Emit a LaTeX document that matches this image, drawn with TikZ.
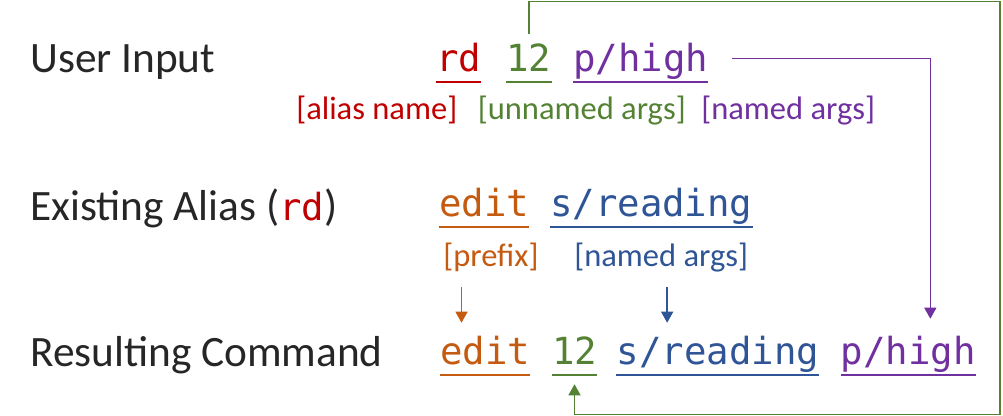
\documentclass[tikz,border=0pt]{standalone}
\usepackage{fontspec}
\setmainfont{Carlito}
\newfontfamily\codefont{DejaVu Sans Mono}
\usetikzlibrary{positioning,arrows.meta}
\definecolor{aliasred}{HTML}{C00000}
\definecolor{argsgreen}{HTML}{548235}
\definecolor{namedpurple}{HTML}{7030A0}
\definecolor{prefixorange}{HTML}{C55A11}
\definecolor{namedblue}{HTML}{2F5597}
\colorlet{titlegray}{black!85}
\newcommand\codesize{\codefont\fontsize{28}{30}\selectfont}

\tikzset{
  rowtitle/.style={font=\fontsize{32.5}{36}\selectfont, text=titlegray, anchor=base west, inner sep=0pt},
  tag/.style={font=\fontsize{24.4}{28}\selectfont, text=#1, anchor=base west, inner sep=0pt},
  word/.style={font=\codesize, text=#1, anchor=base west, inner sep=0pt, text height=28pt, text depth=7.5pt,
    append after command={(\tikzlastnode.south west) edge[draw=#1, line width=1.5pt] (\tikzlastnode.south east)}},
  flow/.style={draw=#1, line width=1pt, -{Triangle[width=9pt,length=8.25pt]}},
}

\begin{document}
\begin{tikzpicture}[x=0.75pt, y=-0.75pt, node distance=16pt]
\useasboundingbox (0,0) rectangle (1003,416);

% row titles
\node[rowtitle] (tinput) at (30,73) {User Input};
\node[rowtitle] (talias) at (30,221) {Existing Alias ({\codesize\color{aliasred}rd})};
\node[rowtitle] (tresult) at (30,367) {Resulting Command};

% user input
\node[word=aliasred] (inrd) at (436,72) {rd};
\node[word=argsgreen, right=18.5pt of inrd] (in12) {12};
\node[word=namedpurple, right=of in12] (inhigh) {p/high};
\node[tag=aliasred] (laliasname) at (296,120) {[alias name]};
\node[tag=argsgreen, right=15pt of laliasname] (lunnamed) {[unnamed args]};
\node[tag=namedpurple, right=11.25pt of lunnamed] (lnamedin) {[named args]};

% existing alias
\node[word=prefixorange] (aledit) at (439,217) {edit};
\node[word=namedblue, right=15.3pt of aledit] (alread) {s/reading};
\node[tag=prefixorange] (lprefix) at (443,267) {[prefix]};
\node[tag=namedblue] (lnamedal) at (574,267) {[named args]};

% resulting command
\node[word=prefixorange] (outedit) at (440,365) {edit};
\node[word=argsgreen, right=of outedit] (out12) {12};
\node[word=namedblue, right=14.4pt of out12] (outread) {s/reading};
\node[word=namedpurple, right=of outread] (outhigh) {p/high};

\coordinate (loopNE) at (1000,1.5);
\coordinate (loopSE) at (1000,414.5);

\draw[flow=argsgreen, shorten >=6.75pt] (in12.north) |- (loopNE) -- (loopSE) -| (out12.south);
\draw[flow=namedpurple, shorten <=18pt, shorten >=6.5pt] (inhigh.east) -| ([xshift=16.5pt]outhigh.north);
\draw[flow=prefixorange, shorten <=10.5pt, shorten >=3.5pt] ([xshift=-22pt]lprefix.south) -- ([xshift=-22pt]lprefix.south |- outedit.north);
\draw[flow=namedblue, shorten <=10.5pt, shorten >=3.5pt] ([xshift=4.5pt]lnamedal.south) -- ([xshift=4.5pt]lnamedal.south |- outread.north);
\end{tikzpicture}
\end{document}
